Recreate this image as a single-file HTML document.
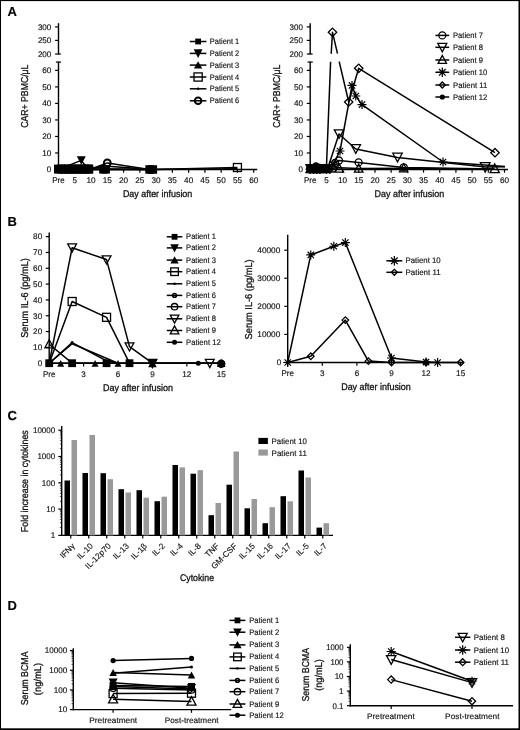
<!DOCTYPE html>
<html><head><meta charset="utf-8"><title>Figure</title>
<style>
html,body{margin:0;padding:0;background:#fff;}
body{width:520px;height:730px;overflow:hidden;}
svg{display:block;font-family:"Liberation Sans",sans-serif;text-rendering:geometricPrecision;filter:grayscale(1);}
</style></head><body>
<svg width="520" height="730" viewBox="0 0 520 730">
<rect x="0" y="0" width="520" height="730" fill="#fff"/>
<rect x="0" y="0" width="520" height="1.1" fill="#000"/>
<rect x="0" y="0" width="1.0" height="730" fill="#000"/>
<rect x="518.5" y="0" width="1.5" height="730" fill="#000"/>
<rect x="0" y="728.3" width="520" height="1.7" fill="#000"/>
<text x="7.60" y="16.20" font-size="13" stroke="#000" stroke-width="0.15" font-weight="bold" fill="#000">A</text>
<text x="7.60" y="226.00" font-size="13" stroke="#000" stroke-width="0.15" font-weight="bold" fill="#000">B</text>
<text x="7.60" y="419.70" font-size="13" stroke="#000" stroke-width="0.15" font-weight="bold" fill="#000">C</text>
<text x="7.60" y="609.80" font-size="13" stroke="#000" stroke-width="0.15" font-weight="bold" fill="#000">D</text>
<line x1="58.50" y1="23.20" x2="58.50" y2="54.60" stroke="#000" stroke-width="1.4" stroke-linecap="butt"/>
<line x1="55.10" y1="26.90" x2="58.50" y2="26.90" stroke="#000" stroke-width="1.2" stroke-linecap="butt"/>
<line x1="55.10" y1="40.40" x2="58.50" y2="40.40" stroke="#000" stroke-width="1.2" stroke-linecap="butt"/>
<line x1="55.10" y1="54.00" x2="58.50" y2="54.00" stroke="#000" stroke-width="1.2" stroke-linecap="butt"/>
<line x1="58.50" y1="54.00" x2="60.90" y2="54.00" stroke="#000" stroke-width="1.2" stroke-linecap="butt"/>
<line x1="58.50" y1="61.60" x2="58.50" y2="170.20" stroke="#000" stroke-width="1.4" stroke-linecap="butt"/>
<line x1="55.90" y1="62.10" x2="61.10" y2="62.10" stroke="#000" stroke-width="1.2" stroke-linecap="butt"/>
<line x1="55.10" y1="169.50" x2="58.50" y2="169.50" stroke="#000" stroke-width="1.2" stroke-linecap="butt"/>
<line x1="55.10" y1="152.98" x2="58.50" y2="152.98" stroke="#000" stroke-width="1.2" stroke-linecap="butt"/>
<line x1="55.10" y1="136.46" x2="58.50" y2="136.46" stroke="#000" stroke-width="1.2" stroke-linecap="butt"/>
<line x1="55.10" y1="119.94" x2="58.50" y2="119.94" stroke="#000" stroke-width="1.2" stroke-linecap="butt"/>
<line x1="55.10" y1="103.42" x2="58.50" y2="103.42" stroke="#000" stroke-width="1.2" stroke-linecap="butt"/>
<line x1="55.10" y1="86.90" x2="58.50" y2="86.90" stroke="#000" stroke-width="1.2" stroke-linecap="butt"/>
<line x1="55.10" y1="70.38" x2="58.50" y2="70.38" stroke="#000" stroke-width="1.2" stroke-linecap="butt"/>
<line x1="57.80" y1="169.50" x2="257.20" y2="169.50" stroke="#000" stroke-width="1.4" stroke-linecap="butt"/>
<line x1="58.50" y1="169.50" x2="58.50" y2="172.70" stroke="#000" stroke-width="1.2" stroke-linecap="butt"/>
<line x1="74.77" y1="169.50" x2="74.77" y2="172.70" stroke="#000" stroke-width="1.2" stroke-linecap="butt"/>
<line x1="91.03" y1="169.50" x2="91.03" y2="172.70" stroke="#000" stroke-width="1.2" stroke-linecap="butt"/>
<line x1="107.30" y1="169.50" x2="107.30" y2="172.70" stroke="#000" stroke-width="1.2" stroke-linecap="butt"/>
<line x1="123.57" y1="169.50" x2="123.57" y2="172.70" stroke="#000" stroke-width="1.2" stroke-linecap="butt"/>
<line x1="139.83" y1="169.50" x2="139.83" y2="172.70" stroke="#000" stroke-width="1.2" stroke-linecap="butt"/>
<line x1="156.10" y1="169.50" x2="156.10" y2="172.70" stroke="#000" stroke-width="1.2" stroke-linecap="butt"/>
<line x1="172.37" y1="169.50" x2="172.37" y2="172.70" stroke="#000" stroke-width="1.2" stroke-linecap="butt"/>
<line x1="188.63" y1="169.50" x2="188.63" y2="172.70" stroke="#000" stroke-width="1.2" stroke-linecap="butt"/>
<line x1="204.90" y1="169.50" x2="204.90" y2="172.70" stroke="#000" stroke-width="1.2" stroke-linecap="butt"/>
<line x1="221.17" y1="169.50" x2="221.17" y2="172.70" stroke="#000" stroke-width="1.2" stroke-linecap="butt"/>
<line x1="237.43" y1="169.50" x2="237.43" y2="172.70" stroke="#000" stroke-width="1.2" stroke-linecap="butt"/>
<line x1="253.70" y1="169.50" x2="253.70" y2="172.70" stroke="#000" stroke-width="1.2" stroke-linecap="butt"/>
<text x="51.30" y="29.70" font-size="8.2" text-anchor="end" stroke="#111" stroke-width="0.15" textLength="13.4" lengthAdjust="spacingAndGlyphs" fill="#111">300</text>
<text x="51.30" y="43.20" font-size="8.2" text-anchor="end" stroke="#111" stroke-width="0.15" textLength="13.4" lengthAdjust="spacingAndGlyphs" fill="#111">250</text>
<text x="51.30" y="56.80" font-size="8.2" text-anchor="end" stroke="#111" stroke-width="0.15" textLength="13.4" lengthAdjust="spacingAndGlyphs" fill="#111">200</text>
<text x="51.30" y="172.30" font-size="8.2" text-anchor="end" stroke="#111" stroke-width="0.15" textLength="4.5" lengthAdjust="spacingAndGlyphs" fill="#111">0</text>
<text x="51.30" y="155.78" font-size="8.2" text-anchor="end" stroke="#111" stroke-width="0.15" textLength="9.1" lengthAdjust="spacingAndGlyphs" fill="#111">10</text>
<text x="51.30" y="139.26" font-size="8.2" text-anchor="end" stroke="#111" stroke-width="0.15" textLength="9.1" lengthAdjust="spacingAndGlyphs" fill="#111">20</text>
<text x="51.30" y="122.74" font-size="8.2" text-anchor="end" stroke="#111" stroke-width="0.15" textLength="9.1" lengthAdjust="spacingAndGlyphs" fill="#111">30</text>
<text x="51.30" y="106.22" font-size="8.2" text-anchor="end" stroke="#111" stroke-width="0.15" textLength="9.1" lengthAdjust="spacingAndGlyphs" fill="#111">40</text>
<text x="51.30" y="89.70" font-size="8.2" text-anchor="end" stroke="#111" stroke-width="0.15" textLength="9.1" lengthAdjust="spacingAndGlyphs" fill="#111">50</text>
<text x="51.30" y="73.18" font-size="8.2" text-anchor="end" stroke="#111" stroke-width="0.15" textLength="9.1" lengthAdjust="spacingAndGlyphs" fill="#111">60</text>
<text x="58.50" y="183.20" font-size="8.2" text-anchor="middle" stroke="#111" stroke-width="0.15" textLength="12.4" lengthAdjust="spacingAndGlyphs" fill="#111">Pre</text>
<text x="74.77" y="183.20" font-size="8.2" text-anchor="middle" stroke="#111" stroke-width="0.15" textLength="4.5" lengthAdjust="spacingAndGlyphs" fill="#111">5</text>
<text x="91.03" y="183.20" font-size="8.2" text-anchor="middle" stroke="#111" stroke-width="0.15" textLength="9.1" lengthAdjust="spacingAndGlyphs" fill="#111">10</text>
<text x="107.30" y="183.20" font-size="8.2" text-anchor="middle" stroke="#111" stroke-width="0.15" textLength="9.1" lengthAdjust="spacingAndGlyphs" fill="#111">15</text>
<text x="123.57" y="183.20" font-size="8.2" text-anchor="middle" stroke="#111" stroke-width="0.15" textLength="9.1" lengthAdjust="spacingAndGlyphs" fill="#111">20</text>
<text x="139.83" y="183.20" font-size="8.2" text-anchor="middle" stroke="#111" stroke-width="0.15" textLength="9.1" lengthAdjust="spacingAndGlyphs" fill="#111">25</text>
<text x="156.10" y="183.20" font-size="8.2" text-anchor="middle" stroke="#111" stroke-width="0.15" textLength="9.1" lengthAdjust="spacingAndGlyphs" fill="#111">30</text>
<text x="172.37" y="183.20" font-size="8.2" text-anchor="middle" stroke="#111" stroke-width="0.15" textLength="9.1" lengthAdjust="spacingAndGlyphs" fill="#111">35</text>
<text x="188.63" y="183.20" font-size="8.2" text-anchor="middle" stroke="#111" stroke-width="0.15" textLength="9.1" lengthAdjust="spacingAndGlyphs" fill="#111">40</text>
<text x="204.90" y="183.20" font-size="8.2" text-anchor="middle" stroke="#111" stroke-width="0.15" textLength="9.1" lengthAdjust="spacingAndGlyphs" fill="#111">45</text>
<text x="221.17" y="183.20" font-size="8.2" text-anchor="middle" stroke="#111" stroke-width="0.15" textLength="9.1" lengthAdjust="spacingAndGlyphs" fill="#111">50</text>
<text x="237.43" y="183.20" font-size="8.2" text-anchor="middle" stroke="#111" stroke-width="0.15" textLength="9.1" lengthAdjust="spacingAndGlyphs" fill="#111">55</text>
<text x="253.70" y="183.20" font-size="8.2" text-anchor="middle" stroke="#111" stroke-width="0.15" textLength="9.1" lengthAdjust="spacingAndGlyphs" fill="#111">60</text>
<text transform="translate(28.40,96.20) rotate(-90)" font-size="10" text-anchor="middle" stroke="#111" stroke-width="0.3" textLength="63.3" lengthAdjust="spacingAndGlyphs" fill="#111">CAR+ PBMC/&#956;L</text>
<text x="157.60" y="196.50" font-size="9.7" text-anchor="middle" stroke="#111" stroke-width="0.3" textLength="69.4" lengthAdjust="spacingAndGlyphs" fill="#111">Day after infusion</text>
<polyline points="58.50,169.50 81.27,160.41 87.78,168.67 149.59,169.50" fill="none" stroke="#000" stroke-width="1.5" stroke-linejoin="round"/>
<polyline points="58.50,169.50 91.03,169.00 107.30,162.89 149.59,169.50" fill="none" stroke="#000" stroke-width="1.5" stroke-linejoin="round"/>
<polyline points="58.50,169.50 104.05,169.50 152.85,169.50 237.43,167.52" fill="none" stroke="#000" stroke-width="1.5" stroke-linejoin="round"/>
<polyline points="58.50,169.50 152.85,169.50 237.43,168.84" fill="none" stroke="#000" stroke-width="1.5" stroke-linejoin="round"/>
<polyline points="87.78,168.67 107.30,166.20 149.59,169.17" fill="none" stroke="#000" stroke-width="1.5" stroke-linejoin="round"/>
<rect x="54.00" y="164.59" width="9" height="9" fill="#000"/>
<rect x="57.25" y="164.59" width="9" height="9" fill="#000"/>
<rect x="60.51" y="164.59" width="9" height="9" fill="#000"/>
<rect x="63.76" y="164.59" width="9" height="9" fill="#000"/>
<rect x="67.01" y="164.59" width="9" height="9" fill="#000"/>
<rect x="70.27" y="164.59" width="9" height="9" fill="#000"/>
<rect x="73.52" y="164.59" width="9" height="9" fill="#000"/>
<rect x="76.77" y="164.59" width="9" height="9" fill="#000"/>
<rect x="80.03" y="164.59" width="9" height="9" fill="#000"/>
<rect x="83.28" y="164.59" width="9" height="9" fill="#000"/>
<rect x="84.26" y="164.59" width="9" height="9" fill="#000"/>
<rect x="99.15" y="165.08" width="8.5" height="8.5" fill="#000"/>
<rect x="101.42" y="165.08" width="8.5" height="8.5" fill="#000"/>
<rect x="145.34" y="165.25" width="8.5" height="8.5" fill="#000"/>
<rect x="148.60" y="165.25" width="8.5" height="8.5" fill="#000"/>
<polygon points="76.77,156.16 85.77,156.16 81.27,164.66" fill="#000"/>
<polygon points="84.03,172.17 91.53,172.17 87.78,165.17" fill="#000"/>
<circle cx="107.30" cy="162.89" r="3.4" fill="none" stroke="#000" stroke-width="2.0"/>
<circle cx="149.59" cy="169.50" r="3.4" fill="none" stroke="#000" stroke-width="2.0"/>
<rect x="233.43" y="163.52" width="8" height="8" fill="none" stroke="#000" stroke-width="1.3"/>
<line x1="189.80" y1="41.50" x2="206.40" y2="41.50" stroke="#000" stroke-width="1.5" stroke-linecap="butt"/>
<rect x="195.20" y="38.60" width="5.8" height="5.8" fill="#000"/>
<text x="209.80" y="44.00" font-size="8" stroke="#111" stroke-width="0.15" textLength="29.4" lengthAdjust="spacingAndGlyphs" fill="#111">Patient 1</text>
<line x1="189.80" y1="53.40" x2="206.40" y2="53.40" stroke="#000" stroke-width="1.5" stroke-linecap="butt"/>
<polygon points="193.70,49.20 202.50,49.20 198.10,58.00" fill="#000"/>
<text x="209.80" y="55.90" font-size="8" stroke="#111" stroke-width="0.15" textLength="29.4" lengthAdjust="spacingAndGlyphs" fill="#111">Patient 2</text>
<line x1="189.80" y1="65.10" x2="206.40" y2="65.10" stroke="#000" stroke-width="1.5" stroke-linecap="butt"/>
<polygon points="193.90,68.40 202.30,68.40 198.10,61.20" fill="#000"/>
<text x="209.80" y="67.60" font-size="8" stroke="#111" stroke-width="0.15" textLength="29.4" lengthAdjust="spacingAndGlyphs" fill="#111">Patient 3</text>
<line x1="189.80" y1="77.00" x2="206.40" y2="77.00" stroke="#000" stroke-width="1.5" stroke-linecap="butt"/>
<rect x="194.00" y="72.90" width="8.2" height="8.2" fill="none" stroke="#000" stroke-width="1.3"/>
<text x="209.80" y="79.50" font-size="8" stroke="#111" stroke-width="0.15" textLength="29.4" lengthAdjust="spacingAndGlyphs" fill="#111">Patient 4</text>
<line x1="189.80" y1="88.80" x2="206.40" y2="88.80" stroke="#000" stroke-width="1.5" stroke-linecap="butt"/>
<circle cx="198.10" cy="88.80" r="1.3" fill="#000"/>
<text x="209.80" y="91.30" font-size="8" stroke="#111" stroke-width="0.15" textLength="29.4" lengthAdjust="spacingAndGlyphs" fill="#111">Patient 5</text>
<line x1="189.80" y1="100.80" x2="206.40" y2="100.80" stroke="#000" stroke-width="1.5" stroke-linecap="butt"/>
<circle cx="198.10" cy="100.80" r="3.3" fill="none" stroke="#000" stroke-width="2.0"/>
<text x="209.80" y="103.30" font-size="8" stroke="#111" stroke-width="0.15" textLength="29.4" lengthAdjust="spacingAndGlyphs" fill="#111">Patient 6</text>
<line x1="310.20" y1="23.20" x2="310.20" y2="54.60" stroke="#000" stroke-width="1.4" stroke-linecap="butt"/>
<line x1="306.80" y1="26.90" x2="310.20" y2="26.90" stroke="#000" stroke-width="1.2" stroke-linecap="butt"/>
<line x1="306.80" y1="40.40" x2="310.20" y2="40.40" stroke="#000" stroke-width="1.2" stroke-linecap="butt"/>
<line x1="306.80" y1="54.00" x2="310.20" y2="54.00" stroke="#000" stroke-width="1.2" stroke-linecap="butt"/>
<line x1="310.20" y1="54.00" x2="312.60" y2="54.00" stroke="#000" stroke-width="1.2" stroke-linecap="butt"/>
<line x1="310.20" y1="61.60" x2="310.20" y2="170.20" stroke="#000" stroke-width="1.4" stroke-linecap="butt"/>
<line x1="307.60" y1="62.10" x2="312.80" y2="62.10" stroke="#000" stroke-width="1.2" stroke-linecap="butt"/>
<line x1="306.80" y1="169.50" x2="310.20" y2="169.50" stroke="#000" stroke-width="1.2" stroke-linecap="butt"/>
<line x1="306.80" y1="152.98" x2="310.20" y2="152.98" stroke="#000" stroke-width="1.2" stroke-linecap="butt"/>
<line x1="306.80" y1="136.46" x2="310.20" y2="136.46" stroke="#000" stroke-width="1.2" stroke-linecap="butt"/>
<line x1="306.80" y1="119.94" x2="310.20" y2="119.94" stroke="#000" stroke-width="1.2" stroke-linecap="butt"/>
<line x1="306.80" y1="103.42" x2="310.20" y2="103.42" stroke="#000" stroke-width="1.2" stroke-linecap="butt"/>
<line x1="306.80" y1="86.90" x2="310.20" y2="86.90" stroke="#000" stroke-width="1.2" stroke-linecap="butt"/>
<line x1="306.80" y1="70.38" x2="310.20" y2="70.38" stroke="#000" stroke-width="1.2" stroke-linecap="butt"/>
<line x1="309.50" y1="169.50" x2="508.00" y2="169.50" stroke="#000" stroke-width="1.4" stroke-linecap="butt"/>
<line x1="310.20" y1="169.50" x2="310.20" y2="172.70" stroke="#000" stroke-width="1.2" stroke-linecap="butt"/>
<line x1="326.39" y1="169.50" x2="326.39" y2="172.70" stroke="#000" stroke-width="1.2" stroke-linecap="butt"/>
<line x1="342.58" y1="169.50" x2="342.58" y2="172.70" stroke="#000" stroke-width="1.2" stroke-linecap="butt"/>
<line x1="358.77" y1="169.50" x2="358.77" y2="172.70" stroke="#000" stroke-width="1.2" stroke-linecap="butt"/>
<line x1="374.97" y1="169.50" x2="374.97" y2="172.70" stroke="#000" stroke-width="1.2" stroke-linecap="butt"/>
<line x1="391.16" y1="169.50" x2="391.16" y2="172.70" stroke="#000" stroke-width="1.2" stroke-linecap="butt"/>
<line x1="407.35" y1="169.50" x2="407.35" y2="172.70" stroke="#000" stroke-width="1.2" stroke-linecap="butt"/>
<line x1="423.54" y1="169.50" x2="423.54" y2="172.70" stroke="#000" stroke-width="1.2" stroke-linecap="butt"/>
<line x1="439.73" y1="169.50" x2="439.73" y2="172.70" stroke="#000" stroke-width="1.2" stroke-linecap="butt"/>
<line x1="455.92" y1="169.50" x2="455.92" y2="172.70" stroke="#000" stroke-width="1.2" stroke-linecap="butt"/>
<line x1="472.12" y1="169.50" x2="472.12" y2="172.70" stroke="#000" stroke-width="1.2" stroke-linecap="butt"/>
<line x1="488.31" y1="169.50" x2="488.31" y2="172.70" stroke="#000" stroke-width="1.2" stroke-linecap="butt"/>
<line x1="504.50" y1="169.50" x2="504.50" y2="172.70" stroke="#000" stroke-width="1.2" stroke-linecap="butt"/>
<text x="303.00" y="29.70" font-size="8.2" text-anchor="end" stroke="#111" stroke-width="0.15" textLength="13.4" lengthAdjust="spacingAndGlyphs" fill="#111">300</text>
<text x="303.00" y="43.20" font-size="8.2" text-anchor="end" stroke="#111" stroke-width="0.15" textLength="13.4" lengthAdjust="spacingAndGlyphs" fill="#111">250</text>
<text x="303.00" y="56.80" font-size="8.2" text-anchor="end" stroke="#111" stroke-width="0.15" textLength="13.4" lengthAdjust="spacingAndGlyphs" fill="#111">200</text>
<text x="303.00" y="172.30" font-size="8.2" text-anchor="end" stroke="#111" stroke-width="0.15" textLength="4.5" lengthAdjust="spacingAndGlyphs" fill="#111">0</text>
<text x="303.00" y="155.78" font-size="8.2" text-anchor="end" stroke="#111" stroke-width="0.15" textLength="9.1" lengthAdjust="spacingAndGlyphs" fill="#111">10</text>
<text x="303.00" y="139.26" font-size="8.2" text-anchor="end" stroke="#111" stroke-width="0.15" textLength="9.1" lengthAdjust="spacingAndGlyphs" fill="#111">20</text>
<text x="303.00" y="122.74" font-size="8.2" text-anchor="end" stroke="#111" stroke-width="0.15" textLength="9.1" lengthAdjust="spacingAndGlyphs" fill="#111">30</text>
<text x="303.00" y="106.22" font-size="8.2" text-anchor="end" stroke="#111" stroke-width="0.15" textLength="9.1" lengthAdjust="spacingAndGlyphs" fill="#111">40</text>
<text x="303.00" y="89.70" font-size="8.2" text-anchor="end" stroke="#111" stroke-width="0.15" textLength="9.1" lengthAdjust="spacingAndGlyphs" fill="#111">50</text>
<text x="303.00" y="73.18" font-size="8.2" text-anchor="end" stroke="#111" stroke-width="0.15" textLength="9.1" lengthAdjust="spacingAndGlyphs" fill="#111">60</text>
<text x="310.20" y="183.20" font-size="8.2" text-anchor="middle" stroke="#111" stroke-width="0.15" textLength="12.4" lengthAdjust="spacingAndGlyphs" fill="#111">Pre</text>
<text x="326.39" y="183.20" font-size="8.2" text-anchor="middle" stroke="#111" stroke-width="0.15" textLength="4.5" lengthAdjust="spacingAndGlyphs" fill="#111">5</text>
<text x="342.58" y="183.20" font-size="8.2" text-anchor="middle" stroke="#111" stroke-width="0.15" textLength="9.1" lengthAdjust="spacingAndGlyphs" fill="#111">10</text>
<text x="358.77" y="183.20" font-size="8.2" text-anchor="middle" stroke="#111" stroke-width="0.15" textLength="9.1" lengthAdjust="spacingAndGlyphs" fill="#111">15</text>
<text x="374.97" y="183.20" font-size="8.2" text-anchor="middle" stroke="#111" stroke-width="0.15" textLength="9.1" lengthAdjust="spacingAndGlyphs" fill="#111">20</text>
<text x="391.16" y="183.20" font-size="8.2" text-anchor="middle" stroke="#111" stroke-width="0.15" textLength="9.1" lengthAdjust="spacingAndGlyphs" fill="#111">25</text>
<text x="407.35" y="183.20" font-size="8.2" text-anchor="middle" stroke="#111" stroke-width="0.15" textLength="9.1" lengthAdjust="spacingAndGlyphs" fill="#111">30</text>
<text x="423.54" y="183.20" font-size="8.2" text-anchor="middle" stroke="#111" stroke-width="0.15" textLength="9.1" lengthAdjust="spacingAndGlyphs" fill="#111">35</text>
<text x="439.73" y="183.20" font-size="8.2" text-anchor="middle" stroke="#111" stroke-width="0.15" textLength="9.1" lengthAdjust="spacingAndGlyphs" fill="#111">40</text>
<text x="455.92" y="183.20" font-size="8.2" text-anchor="middle" stroke="#111" stroke-width="0.15" textLength="9.1" lengthAdjust="spacingAndGlyphs" fill="#111">45</text>
<text x="472.12" y="183.20" font-size="8.2" text-anchor="middle" stroke="#111" stroke-width="0.15" textLength="9.1" lengthAdjust="spacingAndGlyphs" fill="#111">50</text>
<text x="488.31" y="183.20" font-size="8.2" text-anchor="middle" stroke="#111" stroke-width="0.15" textLength="9.1" lengthAdjust="spacingAndGlyphs" fill="#111">55</text>
<text x="504.50" y="183.20" font-size="8.2" text-anchor="middle" stroke="#111" stroke-width="0.15" textLength="9.1" lengthAdjust="spacingAndGlyphs" fill="#111">60</text>
<text transform="translate(280.10,96.20) rotate(-90)" font-size="10" text-anchor="middle" stroke="#111" stroke-width="0.3" textLength="63.3" lengthAdjust="spacingAndGlyphs" fill="#111">CAR+ PBMC/&#956;L</text>
<text x="409.40" y="196.50" font-size="9.7" text-anchor="middle" stroke="#111" stroke-width="0.3" textLength="69.6" lengthAdjust="spacingAndGlyphs" fill="#111">Day after infusion</text>
<polyline points="310.20,169.50 326.39,168.67 330.60,61.70" fill="none" stroke="#000" stroke-width="1.5" stroke-linejoin="round"/>
<polyline points="331.20,53.70 332.50,32.30 337.50,53.70" fill="none" stroke="#000" stroke-width="1.5" stroke-linejoin="round"/>
<polyline points="339.20,61.70 348.70,102.00 358.70,68.30 495.00,152.70" fill="none" stroke="#000" stroke-width="1.5" stroke-linejoin="round"/>
<polyline points="310.20,169.50 326.39,169.00 332.87,164.54 340.00,151.00 352.00,85.40 355.80,96.00 362.00,104.60 443.00,162.00 505.00,166.60" fill="none" stroke="#000" stroke-width="1.5" stroke-linejoin="round"/>
<polyline points="310.20,169.50 326.39,168.67 329.00,164.40 339.00,134.00 355.80,149.00 397.50,157.50 485.50,167.00 505.00,166.80" fill="none" stroke="#000" stroke-width="1.5" stroke-linejoin="round"/>
<polyline points="310.20,169.50 326.39,168.67 335.00,163.00 339.00,160.50 358.60,162.40 403.70,167.50 494.78,169.00" fill="none" stroke="#000" stroke-width="1.5" stroke-linejoin="round"/>
<polyline points="310.20,169.50 339.34,167.85 358.70,168.60 403.70,168.30 494.70,169.20" fill="none" stroke="#000" stroke-width="1.5" stroke-linejoin="round"/>
<polyline points="310.20,169.50 316.00,165.50 326.39,169.00" fill="none" stroke="#000" stroke-width="1.5" stroke-linejoin="round"/>
<path d="M305.70,169.00H314.70M310.20,164.50V173.50M307.02,165.82L313.38,172.19M307.02,172.19L313.38,165.82" stroke="#000" stroke-width="1.2" fill="none"/>
<polygon points="305.95,172.51 314.45,172.51 310.20,164.51" fill="none" stroke="#000" stroke-width="1.3"/>
<path d="M308.94,169.00H317.94M313.44,164.50V173.50M310.26,165.82L316.62,172.19M310.26,172.19L316.62,165.82" stroke="#000" stroke-width="1.2" fill="none"/>
<polygon points="309.19,172.51 317.69,172.51 313.44,164.51" fill="none" stroke="#000" stroke-width="1.3"/>
<path d="M312.18,169.00H321.18M316.68,164.50V173.50M313.49,165.82L319.86,172.19M313.49,172.19L319.86,165.82" stroke="#000" stroke-width="1.2" fill="none"/>
<polygon points="312.43,172.51 320.93,172.51 316.68,164.51" fill="none" stroke="#000" stroke-width="1.3"/>
<path d="M315.41,169.00H324.41M319.91,164.50V173.50M316.73,165.82L323.10,172.19M316.73,172.19L323.10,165.82" stroke="#000" stroke-width="1.2" fill="none"/>
<polygon points="315.66,172.51 324.16,172.51 319.91,164.51" fill="none" stroke="#000" stroke-width="1.3"/>
<path d="M321.89,169.00H330.89M326.39,164.50V173.50M323.21,165.82L329.57,172.19M323.21,172.19L329.57,165.82" stroke="#000" stroke-width="1.2" fill="none"/>
<polygon points="322.14,172.51 330.64,172.51 326.39,164.51" fill="none" stroke="#000" stroke-width="1.3"/>
<polygon points="306.40,169.17 310.20,165.37 314.00,169.17 310.20,172.97" fill="none" stroke="#000" stroke-width="1.3"/>
<polygon points="309.64,169.17 313.44,165.37 317.24,169.17 313.44,172.97" fill="none" stroke="#000" stroke-width="1.3"/>
<polygon points="312.88,169.17 316.68,165.37 320.48,169.17 316.68,172.97" fill="none" stroke="#000" stroke-width="1.3"/>
<polygon points="316.11,169.17 319.91,165.37 323.71,169.17 319.91,172.97" fill="none" stroke="#000" stroke-width="1.3"/>
<polygon points="322.59,169.17 326.39,165.37 330.19,169.17 326.39,172.97" fill="none" stroke="#000" stroke-width="1.3"/>
<polygon points="325.83,169.17 329.63,165.37 333.43,169.17 329.63,172.97" fill="none" stroke="#000" stroke-width="1.3"/>
<polygon points="305.95,164.67 314.45,164.67 310.20,172.67" fill="none" stroke="#000" stroke-width="1.3"/>
<polygon points="312.43,164.67 320.93,164.67 316.68,172.67" fill="none" stroke="#000" stroke-width="1.3"/>
<polygon points="322.14,164.67 330.64,164.67 326.39,172.67" fill="none" stroke="#000" stroke-width="1.3"/>
<circle cx="310.20" cy="168.51" r="3.5" fill="none" stroke="#000" stroke-width="1.3"/>
<circle cx="316.68" cy="168.51" r="3.5" fill="none" stroke="#000" stroke-width="1.3"/>
<circle cx="323.15" cy="168.51" r="3.5" fill="none" stroke="#000" stroke-width="1.3"/>
<circle cx="332.87" cy="168.51" r="3.5" fill="none" stroke="#000" stroke-width="1.3"/>
<circle cx="316.00" cy="165.50" r="3.2" fill="#000"/>
<circle cx="310.20" cy="169.50" r="3" fill="#000"/>
<circle cx="313.44" cy="168.67" r="3" fill="#000"/>
<circle cx="319.91" cy="168.67" r="3" fill="#000"/>
<polygon points="328.30,32.30 332.50,28.10 336.70,32.30 332.50,36.50" fill="none" stroke="#000" stroke-width="1.3"/>
<polygon points="344.50,102.00 348.70,97.80 352.90,102.00 348.70,106.20" fill="none" stroke="#000" stroke-width="1.3"/>
<polygon points="354.50,68.30 358.70,64.10 362.90,68.30 358.70,72.50" fill="none" stroke="#000" stroke-width="1.3"/>
<polygon points="490.80,152.70 495.00,148.50 499.20,152.70 495.00,156.90" fill="none" stroke="#000" stroke-width="1.3"/>
<path d="M335.50,151.00H344.50M340.00,146.50V155.50M336.82,147.82L343.18,154.18M336.82,154.18L343.18,147.82" stroke="#000" stroke-width="1.2" fill="none"/>
<path d="M347.50,85.40H356.50M352.00,80.90V89.90M348.82,82.22L355.18,88.58M348.82,88.58L355.18,82.22" stroke="#000" stroke-width="1.2" fill="none"/>
<path d="M351.30,96.00H360.30M355.80,91.50V100.50M352.62,92.82L358.98,99.18M352.62,99.18L358.98,92.82" stroke="#000" stroke-width="1.2" fill="none"/>
<path d="M357.50,104.60H366.50M362.00,100.10V109.10M358.82,101.42L365.18,107.78M358.82,107.78L365.18,101.42" stroke="#000" stroke-width="1.2" fill="none"/>
<path d="M438.50,162.00H447.50M443.00,157.50V166.50M439.82,158.82L446.18,165.18M439.82,165.18L446.18,158.82" stroke="#000" stroke-width="1.2" fill="none"/>
<path d="M328.37,164.54H337.37M332.87,160.04V169.04M329.69,161.36L336.05,167.73M329.69,167.73L336.05,161.36" stroke="#000" stroke-width="1.2" fill="none"/>
<polygon points="334.30,129.80 343.70,129.80 339.00,138.40" fill="none" stroke="#000" stroke-width="1.3"/>
<polygon points="351.10,144.70 360.50,144.70 355.80,153.30" fill="none" stroke="#000" stroke-width="1.3"/>
<polygon points="392.80,153.20 402.20,153.20 397.50,161.80" fill="none" stroke="#000" stroke-width="1.3"/>
<polygon points="480.40,162.60 490.00,162.60 485.20,172.00" fill="none" stroke="#000" stroke-width="1.3"/>
<circle cx="335.00" cy="163.00" r="3.5" fill="none" stroke="#000" stroke-width="1.3"/>
<circle cx="339.00" cy="160.50" r="3.5" fill="none" stroke="#000" stroke-width="1.3"/>
<circle cx="358.60" cy="162.40" r="3.5" fill="none" stroke="#000" stroke-width="1.3"/>
<circle cx="403.70" cy="167.30" r="3.5" fill="none" stroke="#000" stroke-width="1.3"/>
<polygon points="335.09,172.18 343.59,172.18 339.34,164.18" fill="none" stroke="#000" stroke-width="1.3"/>
<polygon points="354.45,172.20 362.95,172.20 358.70,164.20" fill="none" stroke="#000" stroke-width="1.3"/>
<polygon points="399.45,171.80 407.95,171.80 403.70,163.80" fill="none" stroke="#000" stroke-width="1.3"/>
<polygon points="490.10,172.60 499.30,172.60 494.70,164.00" fill="none" stroke="#000" stroke-width="1.3"/>
<line x1="435.40" y1="35.40" x2="449.20" y2="35.40" stroke="#000" stroke-width="1.5" stroke-linecap="butt"/>
<circle cx="442.30" cy="35.40" r="3.5" fill="none" stroke="#000" stroke-width="1.3"/>
<text x="453.00" y="37.90" font-size="8" stroke="#111" stroke-width="0.15" textLength="30.0" lengthAdjust="spacingAndGlyphs" fill="#111">Patient 7</text>
<line x1="435.40" y1="47.30" x2="449.20" y2="47.30" stroke="#000" stroke-width="1.5" stroke-linecap="butt"/>
<polygon points="437.80,43.40 446.80,43.40 442.30,51.80" fill="none" stroke="#000" stroke-width="1.3"/>
<text x="453.00" y="49.80" font-size="8" stroke="#111" stroke-width="0.15" textLength="30.0" lengthAdjust="spacingAndGlyphs" fill="#111">Patient 8</text>
<line x1="435.40" y1="60.00" x2="449.20" y2="60.00" stroke="#000" stroke-width="1.5" stroke-linecap="butt"/>
<polygon points="438.10,63.40 446.50,63.40 442.30,55.40" fill="none" stroke="#000" stroke-width="1.3"/>
<text x="453.00" y="62.50" font-size="8" stroke="#111" stroke-width="0.15" textLength="30.0" lengthAdjust="spacingAndGlyphs" fill="#111">Patient 9</text>
<line x1="435.40" y1="72.30" x2="449.20" y2="72.30" stroke="#000" stroke-width="1.5" stroke-linecap="butt"/>
<path d="M437.60,72.30H447.00M442.30,67.60V77.00M438.98,68.98L445.62,75.62M438.98,75.62L445.62,68.98" stroke="#000" stroke-width="1.25" fill="none"/>
<text x="453.00" y="74.80" font-size="8" stroke="#111" stroke-width="0.15" textLength="34.3" lengthAdjust="spacingAndGlyphs" fill="#111">Patient 10</text>
<line x1="435.40" y1="85.00" x2="449.20" y2="85.00" stroke="#000" stroke-width="1.5" stroke-linecap="butt"/>
<polygon points="439.30,85.00 442.30,82.00 445.30,85.00 442.30,88.00" fill="none" stroke="#000" stroke-width="1.3"/>
<text x="453.00" y="87.50" font-size="8" stroke="#111" stroke-width="0.15" textLength="34.3" lengthAdjust="spacingAndGlyphs" fill="#111">Patient 11</text>
<line x1="435.40" y1="97.00" x2="449.20" y2="97.00" stroke="#000" stroke-width="1.5" stroke-linecap="butt"/>
<circle cx="442.30" cy="97.00" r="2.6" fill="#000"/>
<text x="453.00" y="99.50" font-size="8" stroke="#111" stroke-width="0.15" textLength="34.3" lengthAdjust="spacingAndGlyphs" fill="#111">Patient 12</text>
<line x1="49.20" y1="232.50" x2="49.20" y2="363.90" stroke="#000" stroke-width="1.4" stroke-linecap="butt"/>
<line x1="45.80" y1="363.20" x2="49.20" y2="363.20" stroke="#000" stroke-width="1.2" stroke-linecap="butt"/>
<text x="42.20" y="366.00" font-size="8.2" text-anchor="end" stroke="#111" stroke-width="0.15" textLength="4.5" lengthAdjust="spacingAndGlyphs" fill="#111">0</text>
<line x1="45.80" y1="347.38" x2="49.20" y2="347.38" stroke="#000" stroke-width="1.2" stroke-linecap="butt"/>
<text x="42.20" y="350.18" font-size="8.2" text-anchor="end" stroke="#111" stroke-width="0.15" textLength="9.1" lengthAdjust="spacingAndGlyphs" fill="#111">10</text>
<line x1="45.80" y1="331.56" x2="49.20" y2="331.56" stroke="#000" stroke-width="1.2" stroke-linecap="butt"/>
<text x="42.20" y="334.36" font-size="8.2" text-anchor="end" stroke="#111" stroke-width="0.15" textLength="9.1" lengthAdjust="spacingAndGlyphs" fill="#111">20</text>
<line x1="45.80" y1="315.74" x2="49.20" y2="315.74" stroke="#000" stroke-width="1.2" stroke-linecap="butt"/>
<text x="42.20" y="318.54" font-size="8.2" text-anchor="end" stroke="#111" stroke-width="0.15" textLength="9.1" lengthAdjust="spacingAndGlyphs" fill="#111">30</text>
<line x1="45.80" y1="299.92" x2="49.20" y2="299.92" stroke="#000" stroke-width="1.2" stroke-linecap="butt"/>
<text x="42.20" y="302.72" font-size="8.2" text-anchor="end" stroke="#111" stroke-width="0.15" textLength="9.1" lengthAdjust="spacingAndGlyphs" fill="#111">40</text>
<line x1="45.80" y1="284.10" x2="49.20" y2="284.10" stroke="#000" stroke-width="1.2" stroke-linecap="butt"/>
<text x="42.20" y="286.90" font-size="8.2" text-anchor="end" stroke="#111" stroke-width="0.15" textLength="9.1" lengthAdjust="spacingAndGlyphs" fill="#111">50</text>
<line x1="45.80" y1="268.28" x2="49.20" y2="268.28" stroke="#000" stroke-width="1.2" stroke-linecap="butt"/>
<text x="42.20" y="271.08" font-size="8.2" text-anchor="end" stroke="#111" stroke-width="0.15" textLength="9.1" lengthAdjust="spacingAndGlyphs" fill="#111">60</text>
<line x1="45.80" y1="252.46" x2="49.20" y2="252.46" stroke="#000" stroke-width="1.2" stroke-linecap="butt"/>
<text x="42.20" y="255.26" font-size="8.2" text-anchor="end" stroke="#111" stroke-width="0.15" textLength="9.1" lengthAdjust="spacingAndGlyphs" fill="#111">70</text>
<line x1="45.80" y1="236.64" x2="49.20" y2="236.64" stroke="#000" stroke-width="1.2" stroke-linecap="butt"/>
<text x="42.20" y="239.44" font-size="8.2" text-anchor="end" stroke="#111" stroke-width="0.15" textLength="9.1" lengthAdjust="spacingAndGlyphs" fill="#111">80</text>
<line x1="48.50" y1="363.20" x2="224.80" y2="363.20" stroke="#000" stroke-width="1.4" stroke-linecap="butt"/>
<line x1="49.20" y1="363.20" x2="49.20" y2="366.40" stroke="#000" stroke-width="1.2" stroke-linecap="butt"/>
<text x="49.20" y="377.10" font-size="8.2" text-anchor="middle" stroke="#111" stroke-width="0.15" textLength="12.4" lengthAdjust="spacingAndGlyphs" fill="#111">Pre</text>
<line x1="83.61" y1="363.20" x2="83.61" y2="366.40" stroke="#000" stroke-width="1.2" stroke-linecap="butt"/>
<text x="83.61" y="377.10" font-size="8.2" text-anchor="middle" stroke="#111" stroke-width="0.15" textLength="4.5" lengthAdjust="spacingAndGlyphs" fill="#111">3</text>
<line x1="118.02" y1="363.20" x2="118.02" y2="366.40" stroke="#000" stroke-width="1.2" stroke-linecap="butt"/>
<text x="118.02" y="377.10" font-size="8.2" text-anchor="middle" stroke="#111" stroke-width="0.15" textLength="4.5" lengthAdjust="spacingAndGlyphs" fill="#111">6</text>
<line x1="152.43" y1="363.20" x2="152.43" y2="366.40" stroke="#000" stroke-width="1.2" stroke-linecap="butt"/>
<text x="152.43" y="377.10" font-size="8.2" text-anchor="middle" stroke="#111" stroke-width="0.15" textLength="4.5" lengthAdjust="spacingAndGlyphs" fill="#111">9</text>
<line x1="186.84" y1="363.20" x2="186.84" y2="366.40" stroke="#000" stroke-width="1.2" stroke-linecap="butt"/>
<text x="186.84" y="377.10" font-size="8.2" text-anchor="middle" stroke="#111" stroke-width="0.15" textLength="9.1" lengthAdjust="spacingAndGlyphs" fill="#111">12</text>
<line x1="221.25" y1="363.20" x2="221.25" y2="366.40" stroke="#000" stroke-width="1.2" stroke-linecap="butt"/>
<text x="221.25" y="377.10" font-size="8.2" text-anchor="middle" stroke="#111" stroke-width="0.15" textLength="9.1" lengthAdjust="spacingAndGlyphs" fill="#111">15</text>
<text transform="translate(28.00,298.00) rotate(-90)" font-size="10" text-anchor="middle" stroke="#111" stroke-width="0.3" textLength="79.7" lengthAdjust="spacingAndGlyphs" fill="#111">Serum IL-6 (pg/mL)</text>
<text x="138.00" y="390.50" font-size="9.7" text-anchor="middle" stroke="#111" stroke-width="0.3" textLength="70.0" lengthAdjust="spacingAndGlyphs" fill="#111">Day after infusion</text>
<polyline points="49.20,363.20 72.14,247.71 106.55,259.58 129.49,346.59 152.43,363.20 209.78,363.20" fill="none" stroke="#000" stroke-width="1.5" stroke-linejoin="round"/>
<polyline points="49.20,363.20 72.14,301.50 106.55,317.32 129.49,363.20" fill="none" stroke="#000" stroke-width="1.5" stroke-linejoin="round"/>
<polyline points="49.20,344.22 72.14,363.20 221.25,363.20" fill="none" stroke="#000" stroke-width="1.5" stroke-linejoin="round"/>
<polyline points="49.20,363.20 72.14,342.63 106.55,360.83 118.02,363.20" fill="none" stroke="#000" stroke-width="1.5" stroke-linejoin="round"/>
<polyline points="49.20,363.20 72.14,343.74 118.02,363.20" fill="none" stroke="#000" stroke-width="1.5" stroke-linejoin="round"/>
<polyline points="49.20,363.20 221.25,363.20" fill="none" stroke="#000" stroke-width="1.6" stroke-linejoin="round"/>
<rect x="45.30" y="359.30" width="7.8" height="7.8" fill="#000"/>
<rect x="68.24" y="359.30" width="7.8" height="7.8" fill="#000"/>
<rect x="102.65" y="359.30" width="7.8" height="7.8" fill="#000"/>
<rect x="125.59" y="359.30" width="7.8" height="7.8" fill="#000"/>
<polygon points="57.17,366.80 64.17,366.80 60.67,360.00" fill="#000"/>
<polygon points="68.64,366.80 75.64,366.80 72.14,360.00" fill="#000"/>
<polygon points="91.58,366.80 98.58,366.80 95.08,360.00" fill="#000"/>
<polygon points="103.05,366.80 110.05,366.80 106.55,360.00" fill="#000"/>
<polygon points="114.52,366.80 121.52,366.80 118.02,360.00" fill="#000"/>
<polygon points="148.93,366.80 155.93,366.80 152.43,360.00" fill="#000"/>
<polygon points="217.75,366.80 224.75,366.80 221.25,360.00" fill="#000"/>
<polygon points="147.63,358.90 157.23,358.90 152.43,367.50" fill="#000"/>
<polygon points="148.13,367.20 156.73,367.20 152.43,359.20" fill="#000"/>
<polygon points="148.03,359.40 156.83,359.40 152.43,367.60" fill="none" stroke="#000" stroke-width="1.3"/>
<polygon points="216.95,367.00 225.55,367.00 221.25,358.80" fill="#000"/>
<polygon points="67.74,243.91 76.54,243.91 72.14,252.11" fill="none" stroke="#000" stroke-width="1.3"/>
<polygon points="102.15,255.78 110.95,255.78 106.55,263.98" fill="none" stroke="#000" stroke-width="1.3"/>
<polygon points="125.09,342.79 133.89,342.79 129.49,350.99" fill="none" stroke="#000" stroke-width="1.3"/>
<polygon points="205.38,359.40 214.18,359.40 209.78,367.60" fill="none" stroke="#000" stroke-width="1.3"/>
<rect x="68.14" y="297.50" width="8" height="8" fill="none" stroke="#000" stroke-width="1.3"/>
<rect x="102.55" y="313.32" width="8" height="8" fill="none" stroke="#000" stroke-width="1.3"/>
<polygon points="44.90,347.82 53.50,347.82 49.20,339.62" fill="none" stroke="#000" stroke-width="1.3"/>
<circle cx="72.14" cy="342.63" r="1.6" fill="#000"/>
<circle cx="198.31" cy="363.20" r="2.5" fill="#000"/>
<circle cx="221.25" cy="363.80" r="3.4" fill="none" stroke="#000" stroke-width="1.6"/>
<circle cx="221.25" cy="363.20" r="2.4" fill="#000"/>
<line x1="166.80" y1="236.80" x2="182.30" y2="236.80" stroke="#000" stroke-width="1.5" stroke-linecap="butt"/>
<rect x="171.65" y="233.90" width="5.8" height="5.8" fill="#000"/>
<text x="186.10" y="239.30" font-size="8" stroke="#111" stroke-width="0.15" textLength="29.8" lengthAdjust="spacingAndGlyphs" fill="#111">Patient 1</text>
<line x1="166.80" y1="247.90" x2="182.30" y2="247.90" stroke="#000" stroke-width="1.5" stroke-linecap="butt"/>
<polygon points="170.25,244.20 178.85,244.20 174.55,252.40" fill="#000"/>
<text x="186.10" y="250.40" font-size="8" stroke="#111" stroke-width="0.15" textLength="29.8" lengthAdjust="spacingAndGlyphs" fill="#111">Patient 2</text>
<line x1="166.80" y1="260.10" x2="182.30" y2="260.10" stroke="#000" stroke-width="1.5" stroke-linecap="butt"/>
<polygon points="170.35,263.40 178.75,263.40 174.55,256.20" fill="#000"/>
<text x="186.10" y="262.60" font-size="8" stroke="#111" stroke-width="0.15" textLength="29.8" lengthAdjust="spacingAndGlyphs" fill="#111">Patient 3</text>
<line x1="166.80" y1="271.70" x2="182.30" y2="271.70" stroke="#000" stroke-width="1.5" stroke-linecap="butt"/>
<rect x="170.75" y="267.90" width="7.6" height="7.6" fill="none" stroke="#000" stroke-width="1.3"/>
<text x="186.10" y="274.20" font-size="8" stroke="#111" stroke-width="0.15" textLength="29.8" lengthAdjust="spacingAndGlyphs" fill="#111">Patient 4</text>
<line x1="166.80" y1="283.80" x2="182.30" y2="283.80" stroke="#000" stroke-width="1.5" stroke-linecap="butt"/>
<circle cx="174.55" cy="283.80" r="1.2" fill="#000"/>
<text x="186.10" y="286.30" font-size="8" stroke="#111" stroke-width="0.15" textLength="29.8" lengthAdjust="spacingAndGlyphs" fill="#111">Patient 5</text>
<line x1="166.80" y1="295.40" x2="182.30" y2="295.40" stroke="#000" stroke-width="1.5" stroke-linecap="butt"/>
<circle cx="174.55" cy="295.40" r="1.9" fill="none" stroke="#000" stroke-width="1.5"/>
<text x="186.10" y="297.90" font-size="8" stroke="#111" stroke-width="0.15" textLength="29.8" lengthAdjust="spacingAndGlyphs" fill="#111">Patient 6</text>
<line x1="166.80" y1="306.70" x2="182.30" y2="306.70" stroke="#000" stroke-width="1.5" stroke-linecap="butt"/>
<circle cx="174.55" cy="306.70" r="3.2" fill="none" stroke="#000" stroke-width="1.3"/>
<text x="186.10" y="309.20" font-size="8" stroke="#111" stroke-width="0.15" textLength="29.8" lengthAdjust="spacingAndGlyphs" fill="#111">Patient 7</text>
<line x1="166.80" y1="318.80" x2="182.30" y2="318.80" stroke="#000" stroke-width="1.5" stroke-linecap="butt"/>
<polygon points="170.25,315.10 178.85,315.10 174.55,323.10" fill="none" stroke="#000" stroke-width="1.3"/>
<text x="186.10" y="321.30" font-size="8" stroke="#111" stroke-width="0.15" textLength="29.8" lengthAdjust="spacingAndGlyphs" fill="#111">Patient 8</text>
<line x1="166.80" y1="330.50" x2="182.30" y2="330.50" stroke="#000" stroke-width="1.5" stroke-linecap="butt"/>
<polygon points="170.25,333.90 178.85,333.90 174.55,325.90" fill="none" stroke="#000" stroke-width="1.3"/>
<text x="186.10" y="333.00" font-size="8" stroke="#111" stroke-width="0.15" textLength="29.8" lengthAdjust="spacingAndGlyphs" fill="#111">Patient 9</text>
<line x1="166.80" y1="342.30" x2="182.30" y2="342.30" stroke="#000" stroke-width="1.5" stroke-linecap="butt"/>
<circle cx="174.55" cy="342.30" r="2.5" fill="#000"/>
<text x="186.10" y="344.80" font-size="8" stroke="#111" stroke-width="0.15" textLength="34.6" lengthAdjust="spacingAndGlyphs" fill="#111">Patient 12</text>
<line x1="287.70" y1="234.80" x2="287.70" y2="363.20" stroke="#000" stroke-width="1.4" stroke-linecap="butt"/>
<line x1="284.30" y1="362.50" x2="287.70" y2="362.50" stroke="#000" stroke-width="1.2" stroke-linecap="butt"/>
<text x="281.30" y="365.30" font-size="8.2" text-anchor="end" stroke="#111" stroke-width="0.15" textLength="4.5" lengthAdjust="spacingAndGlyphs" fill="#111">0</text>
<line x1="284.30" y1="334.42" x2="287.70" y2="334.42" stroke="#000" stroke-width="1.2" stroke-linecap="butt"/>
<text x="280.30" y="337.22" font-size="8.2" text-anchor="end" stroke="#111" stroke-width="0.15" textLength="23.0" lengthAdjust="spacingAndGlyphs" fill="#111">10000</text>
<line x1="284.30" y1="306.34" x2="287.70" y2="306.34" stroke="#000" stroke-width="1.2" stroke-linecap="butt"/>
<text x="280.30" y="309.14" font-size="8.2" text-anchor="end" stroke="#111" stroke-width="0.15" textLength="23.0" lengthAdjust="spacingAndGlyphs" fill="#111">20000</text>
<line x1="284.30" y1="278.26" x2="287.70" y2="278.26" stroke="#000" stroke-width="1.2" stroke-linecap="butt"/>
<text x="280.30" y="281.06" font-size="8.2" text-anchor="end" stroke="#111" stroke-width="0.15" textLength="23.0" lengthAdjust="spacingAndGlyphs" fill="#111">30000</text>
<line x1="284.30" y1="250.18" x2="287.70" y2="250.18" stroke="#000" stroke-width="1.2" stroke-linecap="butt"/>
<text x="280.30" y="252.98" font-size="8.2" text-anchor="end" stroke="#111" stroke-width="0.15" textLength="23.0" lengthAdjust="spacingAndGlyphs" fill="#111">40000</text>
<line x1="287.00" y1="362.50" x2="463.80" y2="362.50" stroke="#000" stroke-width="1.4" stroke-linecap="butt"/>
<line x1="287.70" y1="362.50" x2="287.70" y2="365.70" stroke="#000" stroke-width="1.2" stroke-linecap="butt"/>
<text x="287.70" y="376.30" font-size="8.2" text-anchor="middle" stroke="#111" stroke-width="0.15" textLength="12.4" lengthAdjust="spacingAndGlyphs" fill="#111">Pre</text>
<line x1="322.29" y1="362.50" x2="322.29" y2="365.70" stroke="#000" stroke-width="1.2" stroke-linecap="butt"/>
<text x="322.29" y="376.30" font-size="8.2" text-anchor="middle" stroke="#111" stroke-width="0.15" textLength="4.5" lengthAdjust="spacingAndGlyphs" fill="#111">3</text>
<line x1="356.88" y1="362.50" x2="356.88" y2="365.70" stroke="#000" stroke-width="1.2" stroke-linecap="butt"/>
<text x="356.88" y="376.30" font-size="8.2" text-anchor="middle" stroke="#111" stroke-width="0.15" textLength="4.5" lengthAdjust="spacingAndGlyphs" fill="#111">6</text>
<line x1="391.47" y1="362.50" x2="391.47" y2="365.70" stroke="#000" stroke-width="1.2" stroke-linecap="butt"/>
<text x="391.47" y="376.30" font-size="8.2" text-anchor="middle" stroke="#111" stroke-width="0.15" textLength="4.5" lengthAdjust="spacingAndGlyphs" fill="#111">9</text>
<line x1="426.06" y1="362.50" x2="426.06" y2="365.70" stroke="#000" stroke-width="1.2" stroke-linecap="butt"/>
<text x="426.06" y="376.30" font-size="8.2" text-anchor="middle" stroke="#111" stroke-width="0.15" textLength="9.1" lengthAdjust="spacingAndGlyphs" fill="#111">12</text>
<line x1="460.65" y1="362.50" x2="460.65" y2="365.70" stroke="#000" stroke-width="1.2" stroke-linecap="butt"/>
<text x="460.65" y="376.30" font-size="8.2" text-anchor="middle" stroke="#111" stroke-width="0.15" textLength="9.1" lengthAdjust="spacingAndGlyphs" fill="#111">15</text>
<text transform="translate(251.80,299.40) rotate(-90)" font-size="10" text-anchor="middle" stroke="#111" stroke-width="0.3" textLength="80.0" lengthAdjust="spacingAndGlyphs" fill="#111">Serum IL-6 (pg/mL)</text>
<text x="376.00" y="390.20" font-size="9.7" text-anchor="middle" stroke="#111" stroke-width="0.3" textLength="69.6" lengthAdjust="spacingAndGlyphs" fill="#111">Day after infusion</text>
<polyline points="287.70,362.50 310.76,254.95 333.82,246.25 345.35,242.60 391.47,358.01 426.06,362.08 437.59,362.50" fill="none" stroke="#000" stroke-width="1.5" stroke-linejoin="round"/>
<polyline points="287.70,362.50 310.76,356.32 345.35,320.10 368.41,361.10 391.47,362.50 426.06,362.50 460.65,362.50" fill="none" stroke="#000" stroke-width="1.5" stroke-linejoin="round"/>
<path d="M283.20,362.50H292.20M287.70,358.00V367.00M284.52,359.32L290.88,365.68M284.52,365.68L290.88,359.32" stroke="#000" stroke-width="1.2" fill="none"/>
<path d="M306.26,254.95H315.26M310.76,250.45V259.45M307.58,251.77L313.94,258.14M307.58,258.14L313.94,251.77" stroke="#000" stroke-width="1.2" fill="none"/>
<path d="M329.32,246.25H338.32M333.82,241.75V250.75M330.64,243.07L337.00,249.43M330.64,249.43L337.00,243.07" stroke="#000" stroke-width="1.2" fill="none"/>
<path d="M340.85,242.60H349.85M345.35,238.10V247.10M342.17,239.42L348.53,245.78M342.17,245.78L348.53,239.42" stroke="#000" stroke-width="1.2" fill="none"/>
<path d="M386.97,358.01H395.97M391.47,353.51V362.51M388.29,354.83L394.65,361.19M388.29,361.19L394.65,354.83" stroke="#000" stroke-width="1.2" fill="none"/>
<path d="M421.56,362.08H430.56M426.06,357.58V366.58M422.88,358.90L429.24,365.26M422.88,365.26L429.24,358.90" stroke="#000" stroke-width="1.2" fill="none"/>
<path d="M433.09,362.50H442.09M437.59,358.00V367.00M434.41,359.32L440.77,365.68M434.41,365.68L440.77,359.32" stroke="#000" stroke-width="1.2" fill="none"/>
<polygon points="307.46,356.32 310.76,353.02 314.06,356.32 310.76,359.62" fill="none" stroke="#000" stroke-width="1.3"/>
<polygon points="342.05,320.10 345.35,316.80 348.65,320.10 345.35,323.40" fill="none" stroke="#000" stroke-width="1.3"/>
<polygon points="365.11,361.10 368.41,357.80 371.71,361.10 368.41,364.40" fill="none" stroke="#000" stroke-width="1.3"/>
<polygon points="388.17,362.50 391.47,359.20 394.77,362.50 391.47,365.80" fill="none" stroke="#000" stroke-width="1.3"/>
<polygon points="422.76,362.50 426.06,359.20 429.36,362.50 426.06,365.80" fill="none" stroke="#000" stroke-width="1.3"/>
<polygon points="457.35,362.50 460.65,359.20 463.95,362.50 460.65,365.80" fill="none" stroke="#000" stroke-width="1.3"/>
<line x1="386.40" y1="260.80" x2="402.30" y2="260.80" stroke="#000" stroke-width="1.5" stroke-linecap="butt"/>
<path d="M389.65,260.80H399.05M394.35,256.10V265.50M391.03,257.48L397.67,264.12M391.03,264.12L397.67,257.48" stroke="#000" stroke-width="1.25" fill="none"/>
<text x="405.50" y="263.30" font-size="8" stroke="#111" stroke-width="0.15" textLength="35.2" lengthAdjust="spacingAndGlyphs" fill="#111">Patient 10</text>
<line x1="386.40" y1="272.30" x2="402.30" y2="272.30" stroke="#000" stroke-width="1.5" stroke-linecap="butt"/>
<polygon points="391.35,272.30 394.35,269.30 397.35,272.30 394.35,275.30" fill="none" stroke="#000" stroke-width="1.3"/>
<text x="405.50" y="274.80" font-size="8" stroke="#111" stroke-width="0.15" textLength="35.2" lengthAdjust="spacingAndGlyphs" fill="#111">Patient 11</text>
<line x1="61.70" y1="426.00" x2="61.70" y2="536.10" stroke="#000" stroke-width="1.4" stroke-linecap="butt"/>
<line x1="58.30" y1="535.40" x2="61.70" y2="535.40" stroke="#000" stroke-width="1.2" stroke-linecap="butt"/>
<text x="55.20" y="538.30" font-size="8.2" text-anchor="end" stroke="#111" stroke-width="0.15" textLength="4.5" lengthAdjust="spacingAndGlyphs" fill="#111">1</text>
<line x1="59.90" y1="527.48" x2="61.70" y2="527.48" stroke="#000" stroke-width="0.7" stroke-linecap="butt"/>
<line x1="59.90" y1="522.85" x2="61.70" y2="522.85" stroke="#000" stroke-width="0.7" stroke-linecap="butt"/>
<line x1="59.90" y1="519.57" x2="61.70" y2="519.57" stroke="#000" stroke-width="0.7" stroke-linecap="butt"/>
<line x1="59.90" y1="517.02" x2="61.70" y2="517.02" stroke="#000" stroke-width="0.7" stroke-linecap="butt"/>
<line x1="59.90" y1="514.93" x2="61.70" y2="514.93" stroke="#000" stroke-width="0.7" stroke-linecap="butt"/>
<line x1="59.90" y1="513.17" x2="61.70" y2="513.17" stroke="#000" stroke-width="0.7" stroke-linecap="butt"/>
<line x1="59.90" y1="511.65" x2="61.70" y2="511.65" stroke="#000" stroke-width="0.7" stroke-linecap="butt"/>
<line x1="59.90" y1="510.30" x2="61.70" y2="510.30" stroke="#000" stroke-width="0.7" stroke-linecap="butt"/>
<line x1="58.30" y1="509.10" x2="61.70" y2="509.10" stroke="#000" stroke-width="1.2" stroke-linecap="butt"/>
<text x="55.20" y="512.00" font-size="8.2" text-anchor="end" stroke="#111" stroke-width="0.15" textLength="8.9" lengthAdjust="spacingAndGlyphs" fill="#111">10</text>
<line x1="59.90" y1="501.18" x2="61.70" y2="501.18" stroke="#000" stroke-width="0.7" stroke-linecap="butt"/>
<line x1="59.90" y1="496.55" x2="61.70" y2="496.55" stroke="#000" stroke-width="0.7" stroke-linecap="butt"/>
<line x1="59.90" y1="493.27" x2="61.70" y2="493.27" stroke="#000" stroke-width="0.7" stroke-linecap="butt"/>
<line x1="59.90" y1="490.72" x2="61.70" y2="490.72" stroke="#000" stroke-width="0.7" stroke-linecap="butt"/>
<line x1="59.90" y1="488.63" x2="61.70" y2="488.63" stroke="#000" stroke-width="0.7" stroke-linecap="butt"/>
<line x1="59.90" y1="486.87" x2="61.70" y2="486.87" stroke="#000" stroke-width="0.7" stroke-linecap="butt"/>
<line x1="59.90" y1="485.35" x2="61.70" y2="485.35" stroke="#000" stroke-width="0.7" stroke-linecap="butt"/>
<line x1="59.90" y1="484.00" x2="61.70" y2="484.00" stroke="#000" stroke-width="0.7" stroke-linecap="butt"/>
<line x1="58.30" y1="482.80" x2="61.70" y2="482.80" stroke="#000" stroke-width="1.2" stroke-linecap="butt"/>
<text x="55.20" y="485.70" font-size="8.2" text-anchor="end" stroke="#111" stroke-width="0.15" textLength="13.4" lengthAdjust="spacingAndGlyphs" fill="#111">100</text>
<line x1="59.90" y1="474.88" x2="61.70" y2="474.88" stroke="#000" stroke-width="0.7" stroke-linecap="butt"/>
<line x1="59.90" y1="470.25" x2="61.70" y2="470.25" stroke="#000" stroke-width="0.7" stroke-linecap="butt"/>
<line x1="59.90" y1="466.97" x2="61.70" y2="466.97" stroke="#000" stroke-width="0.7" stroke-linecap="butt"/>
<line x1="59.90" y1="464.42" x2="61.70" y2="464.42" stroke="#000" stroke-width="0.7" stroke-linecap="butt"/>
<line x1="59.90" y1="462.33" x2="61.70" y2="462.33" stroke="#000" stroke-width="0.7" stroke-linecap="butt"/>
<line x1="59.90" y1="460.57" x2="61.70" y2="460.57" stroke="#000" stroke-width="0.7" stroke-linecap="butt"/>
<line x1="59.90" y1="459.05" x2="61.70" y2="459.05" stroke="#000" stroke-width="0.7" stroke-linecap="butt"/>
<line x1="59.90" y1="457.70" x2="61.70" y2="457.70" stroke="#000" stroke-width="0.7" stroke-linecap="butt"/>
<line x1="58.30" y1="456.50" x2="61.70" y2="456.50" stroke="#000" stroke-width="1.2" stroke-linecap="butt"/>
<text x="55.20" y="459.40" font-size="8.2" text-anchor="end" stroke="#111" stroke-width="0.15" textLength="17.8" lengthAdjust="spacingAndGlyphs" fill="#111">1000</text>
<line x1="59.90" y1="448.58" x2="61.70" y2="448.58" stroke="#000" stroke-width="0.7" stroke-linecap="butt"/>
<line x1="59.90" y1="443.95" x2="61.70" y2="443.95" stroke="#000" stroke-width="0.7" stroke-linecap="butt"/>
<line x1="59.90" y1="440.67" x2="61.70" y2="440.67" stroke="#000" stroke-width="0.7" stroke-linecap="butt"/>
<line x1="59.90" y1="438.12" x2="61.70" y2="438.12" stroke="#000" stroke-width="0.7" stroke-linecap="butt"/>
<line x1="59.90" y1="436.03" x2="61.70" y2="436.03" stroke="#000" stroke-width="0.7" stroke-linecap="butt"/>
<line x1="59.90" y1="434.27" x2="61.70" y2="434.27" stroke="#000" stroke-width="0.7" stroke-linecap="butt"/>
<line x1="59.90" y1="432.75" x2="61.70" y2="432.75" stroke="#000" stroke-width="0.7" stroke-linecap="butt"/>
<line x1="59.90" y1="431.40" x2="61.70" y2="431.40" stroke="#000" stroke-width="0.7" stroke-linecap="butt"/>
<line x1="58.30" y1="430.20" x2="61.70" y2="430.20" stroke="#000" stroke-width="1.2" stroke-linecap="butt"/>
<text x="55.20" y="433.10" font-size="8.2" text-anchor="end" stroke="#111" stroke-width="0.15" textLength="22.2" lengthAdjust="spacingAndGlyphs" fill="#111">10000</text>
<line x1="61.00" y1="535.40" x2="333.00" y2="535.40" stroke="#000" stroke-width="1.4" stroke-linecap="butt"/>
<rect x="64.50" y="480.50" width="5.5" height="54.90" fill="#000"/>
<rect x="71.50" y="440.00" width="5.5" height="95.40" fill="#999"/>
<line x1="70.75" y1="535.40" x2="70.75" y2="538.60" stroke="#000" stroke-width="1.2" stroke-linecap="butt"/>
<text transform="translate(75.45,546.60) rotate(-45)" font-size="8.2" text-anchor="end" stroke="#111" stroke-width="0.15" fill="#111">IFN&#947;</text>
<rect x="82.50" y="473.00" width="5.5" height="62.40" fill="#000"/>
<rect x="89.50" y="435.00" width="5.5" height="100.40" fill="#999"/>
<line x1="88.75" y1="535.40" x2="88.75" y2="538.60" stroke="#000" stroke-width="1.2" stroke-linecap="butt"/>
<text transform="translate(93.45,546.60) rotate(-45)" font-size="8.2" text-anchor="end" stroke="#111" stroke-width="0.15" fill="#111">IL-10</text>
<rect x="100.50" y="473.20" width="5.5" height="62.20" fill="#000"/>
<rect x="107.50" y="479.20" width="5.5" height="56.20" fill="#999"/>
<line x1="106.75" y1="535.40" x2="106.75" y2="538.60" stroke="#000" stroke-width="1.2" stroke-linecap="butt"/>
<text transform="translate(111.45,546.60) rotate(-45)" font-size="8.2" text-anchor="end" stroke="#111" stroke-width="0.15" fill="#111">IL-12p70</text>
<rect x="118.50" y="489.20" width="5.5" height="46.20" fill="#000"/>
<rect x="125.50" y="492.50" width="5.5" height="42.90" fill="#999"/>
<line x1="124.75" y1="535.40" x2="124.75" y2="538.60" stroke="#000" stroke-width="1.2" stroke-linecap="butt"/>
<text transform="translate(129.45,546.60) rotate(-45)" font-size="8.2" text-anchor="end" stroke="#111" stroke-width="0.15" fill="#111">IL-13</text>
<rect x="136.50" y="490.20" width="5.5" height="45.20" fill="#000"/>
<rect x="143.50" y="497.70" width="5.5" height="37.70" fill="#999"/>
<line x1="142.75" y1="535.40" x2="142.75" y2="538.60" stroke="#000" stroke-width="1.2" stroke-linecap="butt"/>
<text transform="translate(147.45,546.60) rotate(-45)" font-size="8.2" text-anchor="end" stroke="#111" stroke-width="0.15" fill="#111">IL-1&#946;</text>
<rect x="154.50" y="501.20" width="5.5" height="34.20" fill="#000"/>
<rect x="161.50" y="496.70" width="5.5" height="38.70" fill="#999"/>
<line x1="160.75" y1="535.40" x2="160.75" y2="538.60" stroke="#000" stroke-width="1.2" stroke-linecap="butt"/>
<text transform="translate(165.45,546.60) rotate(-45)" font-size="8.2" text-anchor="end" stroke="#111" stroke-width="0.15" fill="#111">IL-2</text>
<rect x="172.50" y="465.00" width="5.5" height="70.40" fill="#000"/>
<rect x="179.50" y="467.40" width="5.5" height="68.00" fill="#999"/>
<line x1="178.75" y1="535.40" x2="178.75" y2="538.60" stroke="#000" stroke-width="1.2" stroke-linecap="butt"/>
<text transform="translate(183.45,546.60) rotate(-45)" font-size="8.2" text-anchor="end" stroke="#111" stroke-width="0.15" fill="#111">IL-4</text>
<rect x="190.50" y="473.70" width="5.5" height="61.70" fill="#000"/>
<rect x="197.50" y="470.20" width="5.5" height="65.20" fill="#999"/>
<line x1="196.75" y1="535.40" x2="196.75" y2="538.60" stroke="#000" stroke-width="1.2" stroke-linecap="butt"/>
<text transform="translate(201.45,546.60) rotate(-45)" font-size="8.2" text-anchor="end" stroke="#111" stroke-width="0.15" fill="#111">IL-8</text>
<rect x="208.50" y="515.20" width="5.5" height="20.20" fill="#000"/>
<rect x="215.50" y="503.00" width="5.5" height="32.40" fill="#999"/>
<line x1="214.75" y1="535.40" x2="214.75" y2="538.60" stroke="#000" stroke-width="1.2" stroke-linecap="butt"/>
<text transform="translate(219.45,546.60) rotate(-45)" font-size="8.2" text-anchor="end" stroke="#111" stroke-width="0.15" fill="#111">TNF</text>
<rect x="226.50" y="484.70" width="5.5" height="50.70" fill="#000"/>
<rect x="233.50" y="451.50" width="5.5" height="83.90" fill="#999"/>
<line x1="232.75" y1="535.40" x2="232.75" y2="538.60" stroke="#000" stroke-width="1.2" stroke-linecap="butt"/>
<text transform="translate(237.45,546.60) rotate(-45)" font-size="8.2" text-anchor="end" stroke="#111" stroke-width="0.15" fill="#111">GM-CSF</text>
<rect x="244.50" y="508.30" width="5.5" height="27.10" fill="#000"/>
<rect x="251.50" y="499.00" width="5.5" height="36.40" fill="#999"/>
<line x1="250.75" y1="535.40" x2="250.75" y2="538.60" stroke="#000" stroke-width="1.2" stroke-linecap="butt"/>
<text transform="translate(255.45,546.60) rotate(-45)" font-size="8.2" text-anchor="end" stroke="#111" stroke-width="0.15" fill="#111">IL-15</text>
<rect x="262.50" y="523.20" width="5.5" height="12.20" fill="#000"/>
<rect x="269.50" y="507.20" width="5.5" height="28.20" fill="#999"/>
<line x1="268.75" y1="535.40" x2="268.75" y2="538.60" stroke="#000" stroke-width="1.2" stroke-linecap="butt"/>
<text transform="translate(273.45,546.60) rotate(-45)" font-size="8.2" text-anchor="end" stroke="#111" stroke-width="0.15" fill="#111">IL-16</text>
<rect x="280.50" y="496.20" width="5.5" height="39.20" fill="#000"/>
<rect x="287.50" y="501.30" width="5.5" height="34.10" fill="#999"/>
<line x1="286.75" y1="535.40" x2="286.75" y2="538.60" stroke="#000" stroke-width="1.2" stroke-linecap="butt"/>
<text transform="translate(291.45,546.60) rotate(-45)" font-size="8.2" text-anchor="end" stroke="#111" stroke-width="0.15" fill="#111">IL-17</text>
<rect x="298.50" y="470.50" width="5.5" height="64.90" fill="#000"/>
<rect x="305.50" y="477.50" width="5.5" height="57.90" fill="#999"/>
<line x1="304.75" y1="535.40" x2="304.75" y2="538.60" stroke="#000" stroke-width="1.2" stroke-linecap="butt"/>
<text transform="translate(309.45,546.60) rotate(-45)" font-size="8.2" text-anchor="end" stroke="#111" stroke-width="0.15" fill="#111">IL-5</text>
<rect x="316.50" y="527.60" width="5.5" height="7.80" fill="#000"/>
<rect x="323.50" y="523.20" width="5.5" height="12.20" fill="#999"/>
<line x1="322.75" y1="535.40" x2="322.75" y2="538.60" stroke="#000" stroke-width="1.2" stroke-linecap="butt"/>
<text transform="translate(327.45,546.60) rotate(-45)" font-size="8.2" text-anchor="end" stroke="#111" stroke-width="0.15" fill="#111">IL-7</text>
<text transform="translate(27.60,481.20) rotate(-90)" font-size="10" text-anchor="middle" stroke="#111" stroke-width="0.3" textLength="101.9" lengthAdjust="spacingAndGlyphs" fill="#111">Fold increase in cytokines</text>
<text x="197.00" y="580.80" font-size="9.7" text-anchor="middle" stroke="#111" stroke-width="0.3" textLength="34.1" lengthAdjust="spacingAndGlyphs" fill="#111">Cytokine</text>
<rect x="258.4" y="437.9" width="9.5" height="6.1" fill="#000"/>
<rect x="258.4" y="449.5" width="9.5" height="6.1" fill="#999"/>
<text x="271.60" y="443.60" font-size="8" stroke="#111" stroke-width="0.15" textLength="35.3" lengthAdjust="spacingAndGlyphs" fill="#111">Patient 10</text>
<text x="271.60" y="455.80" font-size="8" stroke="#111" stroke-width="0.15" textLength="35.3" lengthAdjust="spacingAndGlyphs" fill="#111">Patient 11</text>
<line x1="73.30" y1="648.30" x2="73.30" y2="710.30" stroke="#000" stroke-width="1.4" stroke-linecap="butt"/>
<line x1="69.90" y1="709.60" x2="73.30" y2="709.60" stroke="#000" stroke-width="1.2" stroke-linecap="butt"/>
<text x="67.30" y="712.40" font-size="8.2" text-anchor="end" stroke="#111" stroke-width="0.15" textLength="9.0" lengthAdjust="spacingAndGlyphs" fill="#111">10</text>
<line x1="71.50" y1="703.68" x2="73.30" y2="703.68" stroke="#000" stroke-width="0.7" stroke-linecap="butt"/>
<line x1="71.50" y1="700.22" x2="73.30" y2="700.22" stroke="#000" stroke-width="0.7" stroke-linecap="butt"/>
<line x1="71.50" y1="697.76" x2="73.30" y2="697.76" stroke="#000" stroke-width="0.7" stroke-linecap="butt"/>
<line x1="71.50" y1="695.85" x2="73.30" y2="695.85" stroke="#000" stroke-width="0.7" stroke-linecap="butt"/>
<line x1="71.50" y1="694.29" x2="73.30" y2="694.29" stroke="#000" stroke-width="0.7" stroke-linecap="butt"/>
<line x1="71.50" y1="692.98" x2="73.30" y2="692.98" stroke="#000" stroke-width="0.7" stroke-linecap="butt"/>
<line x1="71.50" y1="691.84" x2="73.30" y2="691.84" stroke="#000" stroke-width="0.7" stroke-linecap="butt"/>
<line x1="71.50" y1="690.83" x2="73.30" y2="690.83" stroke="#000" stroke-width="0.7" stroke-linecap="butt"/>
<line x1="69.90" y1="689.93" x2="73.30" y2="689.93" stroke="#000" stroke-width="1.2" stroke-linecap="butt"/>
<text x="67.30" y="692.73" font-size="8.2" text-anchor="end" stroke="#111" stroke-width="0.15" textLength="13.5" lengthAdjust="spacingAndGlyphs" fill="#111">100</text>
<line x1="71.50" y1="684.01" x2="73.30" y2="684.01" stroke="#000" stroke-width="0.7" stroke-linecap="butt"/>
<line x1="71.50" y1="680.55" x2="73.30" y2="680.55" stroke="#000" stroke-width="0.7" stroke-linecap="butt"/>
<line x1="71.50" y1="678.09" x2="73.30" y2="678.09" stroke="#000" stroke-width="0.7" stroke-linecap="butt"/>
<line x1="71.50" y1="676.18" x2="73.30" y2="676.18" stroke="#000" stroke-width="0.7" stroke-linecap="butt"/>
<line x1="71.50" y1="674.62" x2="73.30" y2="674.62" stroke="#000" stroke-width="0.7" stroke-linecap="butt"/>
<line x1="71.50" y1="673.31" x2="73.30" y2="673.31" stroke="#000" stroke-width="0.7" stroke-linecap="butt"/>
<line x1="71.50" y1="672.17" x2="73.30" y2="672.17" stroke="#000" stroke-width="0.7" stroke-linecap="butt"/>
<line x1="71.50" y1="671.16" x2="73.30" y2="671.16" stroke="#000" stroke-width="0.7" stroke-linecap="butt"/>
<line x1="69.90" y1="670.26" x2="73.30" y2="670.26" stroke="#000" stroke-width="1.2" stroke-linecap="butt"/>
<text x="67.30" y="673.06" font-size="8.2" text-anchor="end" stroke="#111" stroke-width="0.15" textLength="18.0" lengthAdjust="spacingAndGlyphs" fill="#111">1000</text>
<line x1="71.50" y1="664.34" x2="73.30" y2="664.34" stroke="#000" stroke-width="0.7" stroke-linecap="butt"/>
<line x1="71.50" y1="660.88" x2="73.30" y2="660.88" stroke="#000" stroke-width="0.7" stroke-linecap="butt"/>
<line x1="71.50" y1="658.42" x2="73.30" y2="658.42" stroke="#000" stroke-width="0.7" stroke-linecap="butt"/>
<line x1="71.50" y1="656.51" x2="73.30" y2="656.51" stroke="#000" stroke-width="0.7" stroke-linecap="butt"/>
<line x1="71.50" y1="654.95" x2="73.30" y2="654.95" stroke="#000" stroke-width="0.7" stroke-linecap="butt"/>
<line x1="71.50" y1="653.64" x2="73.30" y2="653.64" stroke="#000" stroke-width="0.7" stroke-linecap="butt"/>
<line x1="71.50" y1="652.50" x2="73.30" y2="652.50" stroke="#000" stroke-width="0.7" stroke-linecap="butt"/>
<line x1="71.50" y1="651.49" x2="73.30" y2="651.49" stroke="#000" stroke-width="0.7" stroke-linecap="butt"/>
<line x1="69.90" y1="650.59" x2="73.30" y2="650.59" stroke="#000" stroke-width="1.2" stroke-linecap="butt"/>
<text x="67.30" y="653.39" font-size="8.2" text-anchor="end" stroke="#111" stroke-width="0.15" textLength="22.5" lengthAdjust="spacingAndGlyphs" fill="#111">10000</text>
<line x1="72.60" y1="709.60" x2="231.20" y2="709.60" stroke="#000" stroke-width="1.4" stroke-linecap="butt"/>
<line x1="113.10" y1="709.60" x2="113.10" y2="712.80" stroke="#000" stroke-width="1.2" stroke-linecap="butt"/>
<line x1="191.50" y1="709.60" x2="191.50" y2="712.80" stroke="#000" stroke-width="1.2" stroke-linecap="butt"/>
<text x="113.20" y="722.60" font-size="8" text-anchor="middle" stroke="#111" stroke-width="0.15" textLength="47.7" lengthAdjust="spacingAndGlyphs" fill="#111">Pretreatment</text>
<text x="191.70" y="722.60" font-size="8" text-anchor="middle" stroke="#111" stroke-width="0.15" textLength="53.8" lengthAdjust="spacingAndGlyphs" fill="#111">Post-treatment</text>
<text transform="translate(28.20,678.40) rotate(-90)" font-size="10" text-anchor="middle" stroke="#111" stroke-width="0.3" textLength="53.9" lengthAdjust="spacingAndGlyphs" fill="#111">Serum BCMA</text>
<text transform="translate(40.50,679.00) rotate(-90)" font-size="10" text-anchor="middle" stroke="#111" stroke-width="0.3" textLength="32.3" lengthAdjust="spacingAndGlyphs" fill="#111">(ng/mL)</text>
<polyline points="113.10,660.59 191.50,658.42" fill="none" stroke="#000" stroke-width="1.5" stroke-linejoin="round"/>
<polyline points="113.10,672.60 191.50,674.99" fill="none" stroke="#000" stroke-width="1.5" stroke-linejoin="round"/>
<polyline points="113.10,673.31 191.50,666.91" fill="none" stroke="#000" stroke-width="1.5" stroke-linejoin="round"/>
<polyline points="113.10,682.63 191.50,688.37" fill="none" stroke="#000" stroke-width="1.5" stroke-linejoin="round"/>
<polyline points="113.10,685.40 191.50,686.47" fill="none" stroke="#000" stroke-width="1.5" stroke-linejoin="round"/>
<polyline points="113.10,686.47 191.50,689.12" fill="none" stroke="#000" stroke-width="1.5" stroke-linejoin="round"/>
<polyline points="113.10,688.37 191.50,689.93" fill="none" stroke="#000" stroke-width="1.5" stroke-linejoin="round"/>
<polyline points="113.10,693.61 191.50,693.22" fill="none" stroke="#000" stroke-width="1.5" stroke-linejoin="round"/>
<polyline points="113.10,699.15 191.50,701.44" fill="none" stroke="#000" stroke-width="1.5" stroke-linejoin="round"/>
<rect x="109.60" y="681.90" width="7" height="7" fill="#000"/>
<rect x="188.00" y="682.97" width="7" height="7" fill="#000"/>
<polygon points="108.60,678.38 117.60,678.38 113.10,686.88" fill="#000"/>
<polygon points="187.00,684.12 196.00,684.12 191.50,692.62" fill="#000"/>
<polygon points="109.35,676.10 116.85,676.10 113.10,669.10" fill="#000"/>
<polygon points="187.75,678.49 195.25,678.49 191.50,671.49" fill="#000"/>
<rect x="109.10" y="689.61" width="8" height="8" fill="none" stroke="#000" stroke-width="1.3"/>
<rect x="187.50" y="689.22" width="8" height="8" fill="none" stroke="#000" stroke-width="1.3"/>
<circle cx="113.10" cy="673.31" r="1.3" fill="#000"/>
<circle cx="191.50" cy="666.91" r="1.5" fill="#000"/>
<circle cx="113.10" cy="686.47" r="2" fill="none" stroke="#000" stroke-width="1.5"/>
<circle cx="191.50" cy="689.12" r="2" fill="none" stroke="#000" stroke-width="1.5"/>
<circle cx="113.10" cy="688.37" r="3.2" fill="none" stroke="#000" stroke-width="1.3"/>
<circle cx="191.50" cy="689.93" r="3.2" fill="none" stroke="#000" stroke-width="1.3"/>
<polygon points="108.60,702.85 117.60,702.85 113.10,694.45" fill="none" stroke="#000" stroke-width="1.3"/>
<polygon points="187.00,705.14 196.00,705.14 191.50,696.74" fill="none" stroke="#000" stroke-width="1.3"/>
<circle cx="113.10" cy="660.59" r="2.6" fill="#000"/>
<circle cx="191.50" cy="658.42" r="2.6" fill="#000"/>
<line x1="229.50" y1="620.40" x2="245.40" y2="620.40" stroke="#000" stroke-width="1.5" stroke-linecap="butt"/>
<rect x="234.55" y="617.50" width="5.8" height="5.8" fill="#000"/>
<text x="249.20" y="622.90" font-size="8" stroke="#111" stroke-width="0.15" textLength="29.9" lengthAdjust="spacingAndGlyphs" fill="#111">Patient 1</text>
<line x1="229.50" y1="632.20" x2="245.40" y2="632.20" stroke="#000" stroke-width="1.5" stroke-linecap="butt"/>
<polygon points="233.15,628.50 241.75,628.50 237.45,636.70" fill="#000"/>
<text x="249.20" y="634.70" font-size="8" stroke="#111" stroke-width="0.15" textLength="29.9" lengthAdjust="spacingAndGlyphs" fill="#111">Patient 2</text>
<line x1="229.50" y1="644.90" x2="245.40" y2="644.90" stroke="#000" stroke-width="1.5" stroke-linecap="butt"/>
<polygon points="233.25,648.20 241.65,648.20 237.45,641.00" fill="#000"/>
<text x="249.20" y="647.40" font-size="8" stroke="#111" stroke-width="0.15" textLength="29.9" lengthAdjust="spacingAndGlyphs" fill="#111">Patient 3</text>
<line x1="229.50" y1="656.90" x2="245.40" y2="656.90" stroke="#000" stroke-width="1.5" stroke-linecap="butt"/>
<rect x="233.65" y="653.10" width="7.6" height="7.6" fill="none" stroke="#000" stroke-width="1.3"/>
<text x="249.20" y="659.40" font-size="8" stroke="#111" stroke-width="0.15" textLength="29.9" lengthAdjust="spacingAndGlyphs" fill="#111">Patient 4</text>
<line x1="229.50" y1="668.40" x2="245.40" y2="668.40" stroke="#000" stroke-width="1.5" stroke-linecap="butt"/>
<circle cx="237.45" cy="668.40" r="1.2" fill="#000"/>
<text x="249.20" y="670.90" font-size="8" stroke="#111" stroke-width="0.15" textLength="29.9" lengthAdjust="spacingAndGlyphs" fill="#111">Patient 5</text>
<line x1="229.50" y1="680.40" x2="245.40" y2="680.40" stroke="#000" stroke-width="1.5" stroke-linecap="butt"/>
<circle cx="237.45" cy="680.40" r="1.9" fill="none" stroke="#000" stroke-width="1.5"/>
<text x="249.20" y="682.90" font-size="8" stroke="#111" stroke-width="0.15" textLength="29.9" lengthAdjust="spacingAndGlyphs" fill="#111">Patient 6</text>
<line x1="229.50" y1="691.70" x2="245.40" y2="691.70" stroke="#000" stroke-width="1.5" stroke-linecap="butt"/>
<circle cx="237.45" cy="691.70" r="3.2" fill="none" stroke="#000" stroke-width="1.3"/>
<text x="249.20" y="694.20" font-size="8" stroke="#111" stroke-width="0.15" textLength="29.9" lengthAdjust="spacingAndGlyphs" fill="#111">Patient 7</text>
<line x1="229.50" y1="704.00" x2="245.40" y2="704.00" stroke="#000" stroke-width="1.5" stroke-linecap="butt"/>
<polygon points="233.15,707.40 241.75,707.40 237.45,699.40" fill="none" stroke="#000" stroke-width="1.3"/>
<text x="249.20" y="706.50" font-size="8" stroke="#111" stroke-width="0.15" textLength="29.9" lengthAdjust="spacingAndGlyphs" fill="#111">Patient 9</text>
<line x1="229.50" y1="715.20" x2="245.40" y2="715.20" stroke="#000" stroke-width="1.5" stroke-linecap="butt"/>
<circle cx="237.45" cy="715.20" r="2.5" fill="#000"/>
<text x="249.20" y="717.70" font-size="8" stroke="#111" stroke-width="0.15" textLength="34.5" lengthAdjust="spacingAndGlyphs" fill="#111">Patient 12</text>
<line x1="350.30" y1="644.30" x2="350.30" y2="706.40" stroke="#000" stroke-width="1.4" stroke-linecap="butt"/>
<line x1="346.90" y1="705.70" x2="350.30" y2="705.70" stroke="#000" stroke-width="1.2" stroke-linecap="butt"/>
<text x="343.50" y="708.60" font-size="8.2" text-anchor="end" stroke="#111" stroke-width="0.15" textLength="11.0" lengthAdjust="spacingAndGlyphs" fill="#111">0.1</text>
<line x1="348.50" y1="701.30" x2="350.30" y2="701.30" stroke="#000" stroke-width="0.7" stroke-linecap="butt"/>
<line x1="348.50" y1="698.73" x2="350.30" y2="698.73" stroke="#000" stroke-width="0.7" stroke-linecap="butt"/>
<line x1="348.50" y1="696.91" x2="350.30" y2="696.91" stroke="#000" stroke-width="0.7" stroke-linecap="butt"/>
<line x1="348.50" y1="695.50" x2="350.30" y2="695.50" stroke="#000" stroke-width="0.7" stroke-linecap="butt"/>
<line x1="348.50" y1="694.34" x2="350.30" y2="694.34" stroke="#000" stroke-width="0.7" stroke-linecap="butt"/>
<line x1="348.50" y1="693.36" x2="350.30" y2="693.36" stroke="#000" stroke-width="0.7" stroke-linecap="butt"/>
<line x1="348.50" y1="692.51" x2="350.30" y2="692.51" stroke="#000" stroke-width="0.7" stroke-linecap="butt"/>
<line x1="348.50" y1="691.77" x2="350.30" y2="691.77" stroke="#000" stroke-width="0.7" stroke-linecap="butt"/>
<line x1="346.90" y1="691.10" x2="350.30" y2="691.10" stroke="#000" stroke-width="1.2" stroke-linecap="butt"/>
<text x="343.50" y="694.00" font-size="8.2" text-anchor="end" stroke="#111" stroke-width="0.15" textLength="4.4" lengthAdjust="spacingAndGlyphs" fill="#111">1</text>
<line x1="348.50" y1="686.70" x2="350.30" y2="686.70" stroke="#000" stroke-width="0.7" stroke-linecap="butt"/>
<line x1="348.50" y1="684.13" x2="350.30" y2="684.13" stroke="#000" stroke-width="0.7" stroke-linecap="butt"/>
<line x1="348.50" y1="682.31" x2="350.30" y2="682.31" stroke="#000" stroke-width="0.7" stroke-linecap="butt"/>
<line x1="348.50" y1="680.90" x2="350.30" y2="680.90" stroke="#000" stroke-width="0.7" stroke-linecap="butt"/>
<line x1="348.50" y1="679.74" x2="350.30" y2="679.74" stroke="#000" stroke-width="0.7" stroke-linecap="butt"/>
<line x1="348.50" y1="678.76" x2="350.30" y2="678.76" stroke="#000" stroke-width="0.7" stroke-linecap="butt"/>
<line x1="348.50" y1="677.91" x2="350.30" y2="677.91" stroke="#000" stroke-width="0.7" stroke-linecap="butt"/>
<line x1="348.50" y1="677.17" x2="350.30" y2="677.17" stroke="#000" stroke-width="0.7" stroke-linecap="butt"/>
<line x1="346.90" y1="676.50" x2="350.30" y2="676.50" stroke="#000" stroke-width="1.2" stroke-linecap="butt"/>
<text x="343.50" y="679.40" font-size="8.2" text-anchor="end" stroke="#111" stroke-width="0.15" textLength="8.8" lengthAdjust="spacingAndGlyphs" fill="#111">10</text>
<line x1="348.50" y1="672.10" x2="350.30" y2="672.10" stroke="#000" stroke-width="0.7" stroke-linecap="butt"/>
<line x1="348.50" y1="669.53" x2="350.30" y2="669.53" stroke="#000" stroke-width="0.7" stroke-linecap="butt"/>
<line x1="348.50" y1="667.71" x2="350.30" y2="667.71" stroke="#000" stroke-width="0.7" stroke-linecap="butt"/>
<line x1="348.50" y1="666.30" x2="350.30" y2="666.30" stroke="#000" stroke-width="0.7" stroke-linecap="butt"/>
<line x1="348.50" y1="665.14" x2="350.30" y2="665.14" stroke="#000" stroke-width="0.7" stroke-linecap="butt"/>
<line x1="348.50" y1="664.16" x2="350.30" y2="664.16" stroke="#000" stroke-width="0.7" stroke-linecap="butt"/>
<line x1="348.50" y1="663.31" x2="350.30" y2="663.31" stroke="#000" stroke-width="0.7" stroke-linecap="butt"/>
<line x1="348.50" y1="662.57" x2="350.30" y2="662.57" stroke="#000" stroke-width="0.7" stroke-linecap="butt"/>
<line x1="346.90" y1="661.90" x2="350.30" y2="661.90" stroke="#000" stroke-width="1.2" stroke-linecap="butt"/>
<text x="343.50" y="664.80" font-size="8.2" text-anchor="end" stroke="#111" stroke-width="0.15" textLength="13.1" lengthAdjust="spacingAndGlyphs" fill="#111">100</text>
<line x1="348.50" y1="657.50" x2="350.30" y2="657.50" stroke="#000" stroke-width="0.7" stroke-linecap="butt"/>
<line x1="348.50" y1="654.93" x2="350.30" y2="654.93" stroke="#000" stroke-width="0.7" stroke-linecap="butt"/>
<line x1="348.50" y1="653.11" x2="350.30" y2="653.11" stroke="#000" stroke-width="0.7" stroke-linecap="butt"/>
<line x1="348.50" y1="651.70" x2="350.30" y2="651.70" stroke="#000" stroke-width="0.7" stroke-linecap="butt"/>
<line x1="348.50" y1="650.54" x2="350.30" y2="650.54" stroke="#000" stroke-width="0.7" stroke-linecap="butt"/>
<line x1="348.50" y1="649.56" x2="350.30" y2="649.56" stroke="#000" stroke-width="0.7" stroke-linecap="butt"/>
<line x1="348.50" y1="648.71" x2="350.30" y2="648.71" stroke="#000" stroke-width="0.7" stroke-linecap="butt"/>
<line x1="348.50" y1="647.97" x2="350.30" y2="647.97" stroke="#000" stroke-width="0.7" stroke-linecap="butt"/>
<line x1="346.90" y1="647.30" x2="350.30" y2="647.30" stroke="#000" stroke-width="1.2" stroke-linecap="butt"/>
<text x="343.50" y="650.20" font-size="8.2" text-anchor="end" stroke="#111" stroke-width="0.15" textLength="17.3" lengthAdjust="spacingAndGlyphs" fill="#111">1000</text>
<line x1="349.60" y1="705.70" x2="513.00" y2="705.70" stroke="#000" stroke-width="1.4" stroke-linecap="butt"/>
<line x1="391.20" y1="705.70" x2="391.20" y2="708.90" stroke="#000" stroke-width="1.2" stroke-linecap="butt"/>
<line x1="472.00" y1="705.70" x2="472.00" y2="708.90" stroke="#000" stroke-width="1.2" stroke-linecap="butt"/>
<text x="390.90" y="718.90" font-size="8" text-anchor="middle" stroke="#111" stroke-width="0.15" textLength="47.7" lengthAdjust="spacingAndGlyphs" fill="#111">Pretreatment</text>
<text x="472.30" y="718.90" font-size="8" text-anchor="middle" stroke="#111" stroke-width="0.15" textLength="54.4" lengthAdjust="spacingAndGlyphs" fill="#111">Post-treatment</text>
<text transform="translate(309.10,674.70) rotate(-90)" font-size="10" text-anchor="middle" stroke="#111" stroke-width="0.3" textLength="53.8" lengthAdjust="spacingAndGlyphs" fill="#111">Serum BCMA</text>
<text transform="translate(321.60,675.00) rotate(-90)" font-size="10" text-anchor="middle" stroke="#111" stroke-width="0.3" textLength="31.7" lengthAdjust="spacingAndGlyphs" fill="#111">(ng/mL)</text>
<polyline points="391.20,651.50 472.00,681.20" fill="none" stroke="#000" stroke-width="1.5" stroke-linejoin="round"/>
<polyline points="391.20,659.50 472.00,682.60" fill="none" stroke="#000" stroke-width="1.5" stroke-linejoin="round"/>
<polyline points="391.20,679.60 472.00,701.20" fill="none" stroke="#000" stroke-width="1.5" stroke-linejoin="round"/>
<path d="M386.70,651.50H395.70M391.20,647.00V656.00M388.02,648.32L394.38,654.68M388.02,654.68L394.38,648.32" stroke="#000" stroke-width="1.2" fill="none"/>
<path d="M467.50,681.20H476.50M472.00,676.70V685.70M468.82,678.02L475.18,684.38M468.82,684.38L475.18,678.02" stroke="#000" stroke-width="1.2" fill="none"/>
<polygon points="386.50,655.60 395.90,655.60 391.20,664.40" fill="none" stroke="#000" stroke-width="1.3"/>
<polygon points="467.30,678.60 476.70,678.60 472.00,687.40" fill="none" stroke="#000" stroke-width="1.3"/>
<polygon points="387.60,679.60 391.20,676.00 394.80,679.60 391.20,683.20" fill="none" stroke="#000" stroke-width="1.3"/>
<polygon points="468.40,701.20 472.00,697.60 475.60,701.20 472.00,704.80" fill="none" stroke="#000" stroke-width="1.3"/>
<line x1="455.00" y1="637.30" x2="470.40" y2="637.30" stroke="#000" stroke-width="1.5" stroke-linecap="butt"/>
<polygon points="458.20,633.40 467.20,633.40 462.70,641.80" fill="none" stroke="#000" stroke-width="1.3"/>
<text x="473.80" y="639.80" font-size="8" stroke="#111" stroke-width="0.15" textLength="31.0" lengthAdjust="spacingAndGlyphs" fill="#111">Patient 8</text>
<line x1="455.00" y1="650.00" x2="470.40" y2="650.00" stroke="#000" stroke-width="1.5" stroke-linecap="butt"/>
<path d="M458.00,650.00H467.40M462.70,645.30V654.70M459.38,646.68L466.02,653.32M459.38,653.32L466.02,646.68" stroke="#000" stroke-width="1.25" fill="none"/>
<text x="473.80" y="652.50" font-size="8" stroke="#111" stroke-width="0.15" textLength="35.2" lengthAdjust="spacingAndGlyphs" fill="#111">Patient 10</text>
<line x1="455.00" y1="662.20" x2="470.40" y2="662.20" stroke="#000" stroke-width="1.5" stroke-linecap="butt"/>
<polygon points="459.20,662.20 462.70,658.70 466.20,662.20 462.70,665.70" fill="none" stroke="#000" stroke-width="1.3"/>
<text x="473.80" y="664.70" font-size="8" stroke="#111" stroke-width="0.15" textLength="35.2" lengthAdjust="spacingAndGlyphs" fill="#111">Patient 11</text>
</svg>
</body></html>
